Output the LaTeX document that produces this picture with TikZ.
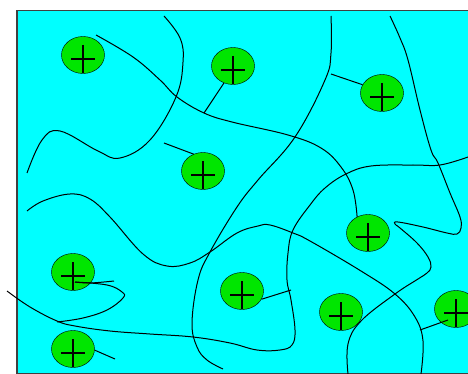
\documentclass[tikz,border=0pt]{standalone}
\usepackage{tikz}
\usetikzlibrary{shapes.geometric}
\definecolor{iongreen}{RGB}{0,230,0}
\definecolor{bgcyan}{RGB}{0,255,255}

\begin{document}
\begin{tikzpicture}[
  x=1pt, y=-1pt,
  ion/.style={ellipse, draw, fill=iongreen, inner sep=0pt,
              minimum width=43pt, minimum height=37pt,
              path picture={
                \draw[line width=2pt] (path picture bounding box.center)
                  ++(0pt,10pt) -- ++(0pt,-28pt);
                \draw[line width=2pt] (path picture bounding box.center)
                  ++(-12pt,-4pt) -- ++(24pt,0pt);}},
  strand/.style={draw, line width=1pt, smooth, tension=0.65},
  tether/.style={draw, line width=1pt}
]
\useasboundingbox (0,0) rectangle (468,374);
\draw[fill=bgcyan, draw=black!75, line width=1.2pt] (17,10.5) rectangle (480,373.5);

\node[ion] (ion1)  at (83,55)  {};
\node[ion] (ion2)  at (233,66) {};
\node[ion] (ion3)  at (382,93) {};
\node[ion] (ion4)  at (203,171) {};
\node[ion] (ion5)  at (368,233) {};
\node[ion] (ion6)  at (73,272) {};
\node[ion] (ion7)  at (242,291) {};
\node[ion] (ion8)  at (341,312) {};
\node[ion] (ion9)  at (456,309) {};
\node[ion] (ion10) at (73,349) {};

\coordinate (t2) at (204,113);
\coordinate (t3) at (331,74);
\coordinate (t4) at (164,143);
\coordinate (t7) at (291,290);
\coordinate (t9) at (420,330);
\coordinate (t10) at (115,359);
\coordinate (k6) at ([xshift=2pt,yshift=-10pt]ion6.center);
\coordinate (k9) at ([xshift=-8pt,yshift=-11pt]ion9.center);

\draw[strand] plot coordinates {(96,35) (133,57) (160,80) (177,97) (204,113)
  (232,122) (288,135) (321,148) (341,167) (353,190) (ion5.124)};
\draw[strand] plot coordinates {(164,16) (180,38) (183,62) (176,97) (150,140)
  (120,158) (98,151) (60,131) (42,140) (27,173)};
\draw[strand] plot coordinates {(331,16) (331,53) (325,80) (295,137) (258,180)
  (237,207) (210,252) (198,280) (192,323) (197,347) (207,360) (223,369)};
\draw[strand] plot coordinates {(390,16) (400,38) (408,60) (420,110) (431,150)
  (438,163) (450,193) (460,217) (461,228) (457,234) (447,233) (423,227)
  (398,222) (395,224) (400,228) (417,243) (428,257) (431,267) (427,273)
  (418,279) (395,294) (361,321) (348,344) (348,374)};
\draw[strand] plot coordinates {(468,157) (440,165) (413,165) (371,166)
  (346,174) (325,188) (310,205) (293,230) (288,253) (287,280) (291,300)
  (295,330) (292,345) (280,350) (257,350) (230,343) (193,337) (150,334)
  (110,331) (75,326) (57,321) (30,307) (7,291)};
\draw[strand] plot coordinates {(27,211) (43,201) (70,194) (90,199) (110,217)
  (143,254) (167,266) (190,263) (210,252) (237,233) (258,226) (270,225)
  (293,233) (310,241) (361,271) (395,294) (415,317) (423,341) (421,374)};
\draw[strand] plot coordinates {(k6) (90,283) (114,281)};
\draw[strand] plot coordinates {(k6) (107,285) (122,292) (123,298) (107,310)
  (83,318) (57,322)};

\draw[tether] (ion2.242) -- (t2);
\draw[tether] (ion3.157) -- (t3);
\draw[tether] (ion4.119) -- (t4);
\draw[tether] (ion7.337) -- (t7);
\draw[tether] (k9) -- (t9);
\draw[tether] (ion10.357) -- (t10);
\end{tikzpicture}
\end{document}
